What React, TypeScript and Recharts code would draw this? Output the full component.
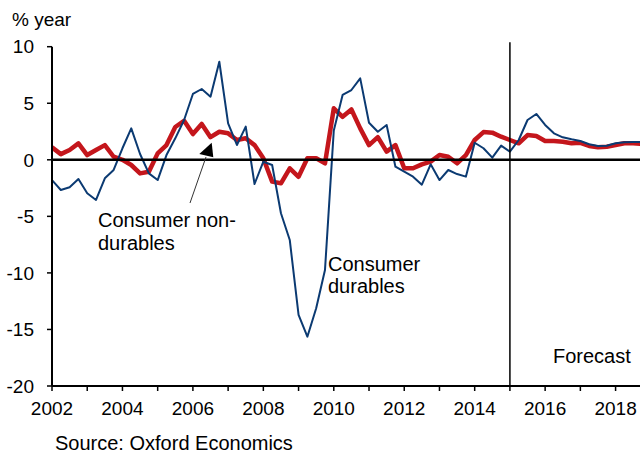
import React from 'react';
import { LineChart, Line, XAxis, YAxis, ReferenceLine } from 'recharts';

const quarters: number[] = [];
for (let y = 2002; y <= 2018; y++) {
  for (let q = 0; q < 4; q++) quarters.push(y + q * 0.25);
}

const nonDurables = [
  1.1, 0.5, 0.87, 1.45,
  0.42, 0.87, 1.3, 0.27,
  0.0, -0.46, -1.2, -1.05,
  0.57, 1.3, 2.9, 3.45,
  2.28, 3.17, 2.0, 2.48,
  2.34, 1.75, 1.9, 1.3,
  0.13, -1.93, -2.08, -0.75,
  -1.5, 0.13, 0.13, -0.31,
  4.55, 3.8, 4.45, 2.78,
  1.3, 2.0, 0.72, 1.3,
  -0.75, -0.75, -0.4, -0.16,
  0.42, 0.27, -0.31, 0.42,
  1.75, 2.45, 2.4, 2.04,
  1.75, 1.46, 2.19, 2.1,
  1.66, 1.66, 1.6, 1.46,
  1.5, 1.22, 1.1, 1.16,
  1.31, 1.46, 1.46, 1.4,
];

const durables = [
  -1.79, -2.67, -2.43, -1.7,
  -2.96, -3.55, -1.64, -0.9,
  1.02, 2.78, 0.51, -1.2,
  -1.79, 0.42, 1.9, 3.52,
  5.82, 6.26, 5.58, 8.67,
  3.23, 1.31, 2.93, -2.14,
  -0.17, -0.46, -4.73, -7.09,
  -13.72, -15.64, -13.13, -9.74,
  2.6, 5.73, 6.17, 7.2,
  3.28, 2.48, 3.08, -0.61,
  -1.05, -1.49, -2.2, -0.4,
  -1.79, -0.9, -1.26, -1.49,
  1.51, 1.02, 0.19, 1.25,
  0.72, 1.75, 3.52, 4.05,
  3.08, 2.34, 1.99, 1.81,
  1.66, 1.37, 1.22, 1.25,
  1.46, 1.55, 1.58, 1.58,
];

const xTicks = [2002, 2003, 2004, 2005, 2006, 2007, 2008, 2009, 2010, 2011, 2012, 2013, 2014, 2015, 2016, 2017, 2018];
const yTicks = [-20, -15, -10, -5, 0, 5, 10];
const forecastStart = 2015;

const data = quarters.map((t, i) => ({ t, nd: nonDurables[i], d: durables[i] }));

const FONT = '"Liberation Sans", Arial, sans-serif';
const RED = '#C4161C';
const BLUE = '#0B3A72';

export default function App() {
  return (
    <div style={{ position: 'absolute', left: 0, top: 0, width: 640, height: 457, overflow: 'hidden', background: '#fff' }}>
      <LineChart
        width={642}
        height={457}
        data={data}
        margin={{ top: 46.7, right: 0, bottom: 41, left: 0 }}
      >
        <XAxis
          dataKey="t"
          type="number"
          domain={[2002, 2018.75]}
          ticks={xTicks}
          interval={0}
          allowDataOverflow
          tickFormatter={(v: number) => (v % 2 === 0 ? String(v) : '')}
          height={30}
          tickSize={5}
          tickMargin={11}
          axisLine={{ stroke: '#000', strokeWidth: 2 }}
          tickLine={{ stroke: '#000', strokeWidth: 1.5 }}
          tick={{ fill: '#000', fontSize: 19, fontFamily: FONT }}
        />
        <YAxis
          type="number"
          domain={[-20, 10]}
          ticks={yTicks}
          interval={0}
          width={52}
          tickSize={5}
          tickMargin={13}
          axisLine={{ stroke: '#000', strokeWidth: 2 }}
          tickLine={{ stroke: '#000', strokeWidth: 1.5 }}
          tick={{ fill: '#000', fontSize: 19, fontFamily: FONT }}
        />
        <Line
          type="linear"
          dataKey="nd"
          stroke={RED}
          strokeWidth={4.5}
          dot={false}
          isAnimationActive={false}
          strokeLinejoin="round"
        />
        <Line
          type="linear"
          dataKey="d"
          stroke={BLUE}
          strokeWidth={2}
          dot={false}
          isAnimationActive={false}
          strokeLinejoin="round"
        />
        <ReferenceLine y={0} stroke="#000" strokeWidth={2.5} />
        <ReferenceLine
          segment={[{ x: forecastStart, y: 10.4 }, { x: forecastStart, y: -20 }]}
          stroke="#000"
          strokeWidth={1.5}
          ifOverflow="visible"
        />
      </LineChart>
      <svg
        width={640}
        height={457}
        style={{ position: 'absolute', left: 0, top: 0, pointerEvents: 'none' }}
      >
        <g fontFamily={FONT} fill="#000">
          <text x={12} y={26} fontSize={19}>% year</text>
          <text x={98} y={226.7} fontSize={20}>Consumer non-</text>
          <text x={98} y={249.5} fontSize={20}>durables</text>
          <text x={328} y={270.7} fontSize={20}>Consumer</text>
          <text x={328} y={293.3} fontSize={20}>durables</text>
          <text x={553} y={363} fontSize={20}>Forecast</text>
          <text x={55} y={450} fontSize={20}>Source: Oxford Economics</text>
        </g>
        <line x1={190} y1={203} x2={206} y2={157} stroke="#333" strokeWidth={1} />
        <polygon points="211.7,142.7 199.3,154 213.3,157.3" fill="#000" />
      </svg>
    </div>
  );
}
